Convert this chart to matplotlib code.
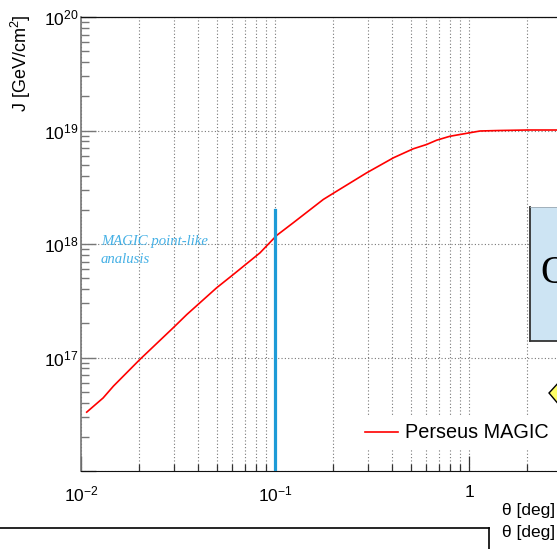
import matplotlib
matplotlib.use("Agg")
import matplotlib.pyplot as plt
from matplotlib.ticker import FixedLocator, NullFormatter, LogLocator, FixedFormatter
from matplotlib.patches import Rectangle, Polygon
from matplotlib.lines import Line2D

plt.rcParams['font.family'] = ['Liberation Sans', 'DejaVu Sans']
plt.rcParams['mathtext.fontset'] = 'custom'
plt.rcParams['mathtext.rm'] = 'Liberation Sans'
plt.rcParams['mathtext.it'] = 'Liberation Sans:italic'
plt.rcParams['mathtext.default'] = 'regular'

# ---- data ----
theta = [0.0107, 0.0130, 0.0147, 0.0201, 0.0299, 0.0351, 0.0500, 0.0610, 0.0837,
         0.1020, 0.1243, 0.1775, 0.208, 0.297, 0.408, 0.516, 0.605, 0.682, 0.798,
         1.01, 1.14, 1.43, 2.0, 3.0, 5.0, 10.0]
J = [3.3e16, 4.4e16, 5.6e16, 9.6e16, 1.83e17, 2.39e17, 4.11e17, 5.39e17, 8.36e17,
     1.19e18, 1.54e18, 2.47e18, 2.92e18, 4.24e18, 5.75e18, 6.90e18, 7.53e18, 8.22e18,
     8.9e18, 9.55e18, 9.9e18, 1.0e19, 1.01e19, 1.01e19, 1.01e19, 1.01e19]
series_label = "Perseus MAGIC"
magic_theta = 0.1
magic_J = [1e16, 2e18]
magic_note = "MAGIC point-like\nanalusis"
x_ticks = [0.01, 0.1, 1]
x_ticklabels = ['$10^{-2}$', '$10^{-1}$', '1']
y_ticks = [1e16, 1e17, 1e18, 1e19, 1e20]
y_ticklabels = ['', '$10^{17}$', '$10^{18}$', '$10^{19}$', '$10^{20}$']

W, H = 557, 549
fig = plt.figure(figsize=(W / 100, H / 100), dpi=100)
def fx(px): return px / W
def fy(py): return 1 - py / H

ax = fig.add_axes([fx(81), fy(471), 582 / W, 454 / H])
ax.set_xscale('log')
ax.set_yscale('log')
ax.set_xlim(0.01, 10)
ax.set_ylim(1e16, 1e20)

ax.xaxis.set_major_locator(FixedLocator(x_ticks))
ax.xaxis.set_major_formatter(FixedFormatter(x_ticklabels))
ax.xaxis.set_minor_locator(LogLocator(base=10, subs=[2, 3, 4, 5, 6, 7, 8, 9], numticks=20))
ax.xaxis.set_minor_formatter(NullFormatter())
ax.yaxis.set_major_locator(FixedLocator(y_ticks))
ax.yaxis.set_major_formatter(FixedFormatter(y_ticklabels))
ax.yaxis.set_minor_locator(LogLocator(base=10, subs=[2, 3, 4, 5, 6, 7, 8, 9], numticks=20))
ax.yaxis.set_minor_formatter(NullFormatter())

gkw = dict(color='#777777', linestyle=(0, (1, 2)), linewidth=0.8)
ax.grid(True, which='both', axis='x', **gkw)
ax.grid(True, which='major', axis='y', **gkw)

ax.tick_params(axis='both', which='both', direction='in', top=False, right=False)
ax.tick_params(axis='x', which='major', length=10.5, width=0.9, color='#333333', labelsize=12.5, pad=10)
ax.tick_params(axis='x', which='minor', length=5, width=0.9, color='#333333')
ax.tick_params(axis='y', which='major', length=11, width=1.0, color='#777777', labelsize=12.5, pad=2)
ax.tick_params(axis='y', which='minor', length=6, width=1.0, color='#777777')

ax.spines['left'].set_color('#777777')
ax.spines['left'].set_linewidth(1.2)
ax.spines['bottom'].set_color('#111111')
ax.spines['top'].set_color('#111111')
ax.spines['top'].set_linewidth(0.9)

ax.plot(theta, J, color='#ff0000', linewidth=1.2, label=series_label, zorder=3)
ax.plot([magic_theta, magic_theta], magic_J, color='#1e9bd7', linewidth=2.3, zorder=4)

ax.text(0.01263, 8.8e17, magic_note, fontfamily='Liberation Serif',
        style='italic', fontsize=10.6, color='#45b0e5', ha='left', va='center',
        linespacing=1.55)

leg = ax.legend(loc='center left', bbox_to_anchor=(fx(358), fy(433)),
                bbox_transform=fig.transFigure, frameon=True, fancybox=False,
                framealpha=1, edgecolor='none', facecolor='white', fontsize=14.3,
                handlelength=1.65, handletextpad=0.35, borderpad=0.35, borderaxespad=0)

fig.text(fx(21), fy(15), "J [GeV/cm$^{2}$]", rotation=90, ha='center', va='top', fontsize=13)
fig.text(fx(555), fy(510), "θ [deg]", ha='right', va='center', fontsize=12.5)
fig.text(fx(555), fy(532), "θ [deg]", ha='right', va='center', fontsize=12.5)

# lower panel border (partially visible)
fig.add_artist(Line2D([0, fx(489)], [fy(528), fy(528)], color='black', linewidth=1.2))
fig.add_artist(Line2D([fx(489), fx(489)], [fy(528), fy(560)], color='black', linewidth=1.2))

# light-blue box with Q (cut at the right edge, as in the reference)
fig.add_artist(Rectangle((fx(530), fy(341)), 60 / W, 134 / H, transform=fig.transFigure,
                         facecolor='#cde4f3', edgecolor='none', zorder=5))
fig.add_artist(Line2D([fx(530), fx(530)], [fy(207), fy(341)], color='#333333', linewidth=1.3, zorder=6))
fig.add_artist(Line2D([fx(530), fx(600)], [fy(341), fy(341)], color='#333333', linewidth=1.3, zorder=6))
fig.add_artist(Line2D([fx(530), fx(600)], [fy(207), fy(207)], color='#9aa8b2', linewidth=0.6, zorder=6))
fig.text(fx(540), fy(283), "Q", fontfamily='Liberation Serif', fontsize=28, ha='left',
         va='baseline', color='black', zorder=7)

# yellow arrow (partially visible)
fig.add_artist(Polygon([(fx(549), fy(393)), (fx(560), fy(381)), (fx(570), fy(381)),
                        (fx(570), fy(408)), (fx(560), fy(406))], closed=True,
                       transform=fig.transFigure, facecolor='#ffff66', edgecolor='black',
                       linewidth=1.0, zorder=6))

fig.savefig("out.png", dpi=100)
